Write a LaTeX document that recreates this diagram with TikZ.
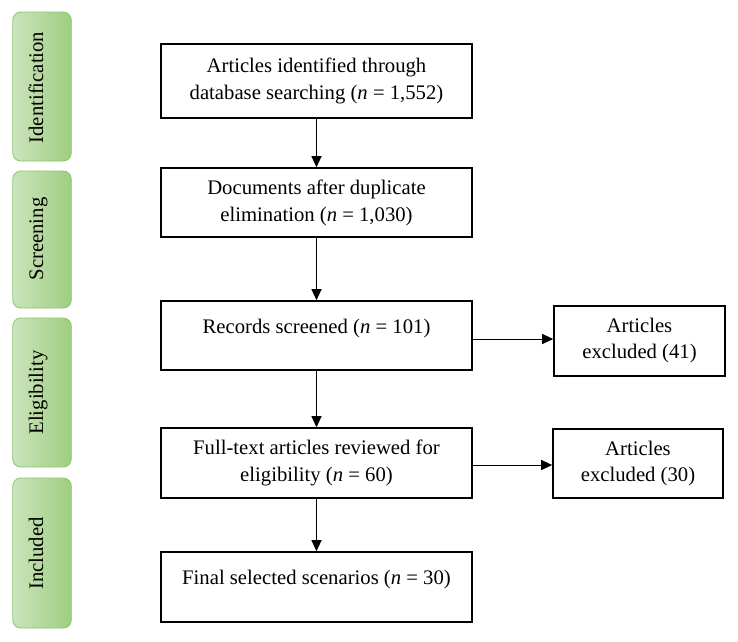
\documentclass[tikz,border=0pt]{standalone}
\usepackage{fontspec}
\setmainfont{Liberation Serif}
\usetikzlibrary{arrows.meta}
\definecolor{gleft}{RGB}{203,228,188}
\definecolor{gright}{RGB}{158,206,128}
\definecolor{gborder}{RGB}{140,196,110}
\begin{document}
\begin{tikzpicture}[x=1pt,y=-1pt,
  mainbox/.style={draw=black,line width=1.6pt,minimum width=311pt,inner sep=0pt,align=center,
    font=\fontsize{20.7}{27}\selectfont},
  exbox/.style={draw=black,line width=1.6pt,minimum width=171pt,minimum height=70pt,inner sep=0pt,align=center,
    font=\fontsize{20.7}{26}\selectfont},
  txt/.style={inner sep=0pt,font=\fontsize{20.7}{27}\selectfont},
  side/.style={draw=gborder,line width=0.8pt,rounded corners=8pt,left color=gleft,right color=gright,
    minimum width=58.5pt,inner sep=0pt},
  sidetxt/.style={inner sep=0pt,rotate=90,anchor=base,font=\fontsize{20.7}{27}\selectfont},
  arr/.style={line width=1pt,-{Triangle[length=11pt,width=10pt]}}]
\useasboundingbox (0,0) rectangle (738,641);
% side phases
\node[side,minimum height=149pt] (s1) at (42,86.5) {};
\node[side,minimum height=137pt] (s2) at (42,239.5) {};
\node[side,minimum height=149pt] (s3) at (42,392.5) {};
\node[side,minimum height=150pt] (s4) at (42,553) {};
\node[sidetxt] (l1) at (43,87.5) {Identification};
\node[sidetxt] (l2) at (43,239) {Screening};
\node[sidetxt] (l3) at (43,392.5) {Eligibility};
\node[sidetxt] (l4) at (43,553.5) {Included};
% main boxes
\node[mainbox,minimum height=74pt] (b1) at (316.5,81) {Articles identified through\\database searching (\textit{n} = 1,552)};
\node[mainbox,minimum height=69pt] (b2) at (316.5,202.5) {Documents after duplicate\\elimination (\textit{n} = 1,030)};
\node[mainbox,minimum height=69pt] (b3) at (316.5,335.5) {};
\node[txt] (t3) at (316.5,329) {Records screened (\textit{n} = 101)};
\node[mainbox,minimum height=70pt] (b4) at (316.5,463) {Full-text articles reviewed for\\eligibility (\textit{n} = 60)};
\node[mainbox,minimum height=70pt] (b5) at (316.5,587) {};
\node[txt] (t5) at (316.5,580) {Final selected scenarios (\textit{n} = 30)};
% excluded boxes
\node[exbox] (e1) at (639.5,341) {Articles\\excluded (41)};
\node[exbox,minimum width=170pt,minimum height=69pt] (e2) at (638,463.5) {Articles\\excluded (30)};
% arrows
\draw[arr] (b1.south) -- (b2.north);
\draw[arr] (b2.south) -- (b3.north);
\draw[arr] (b3.south) -- (b4.north);
\draw[arr] (b4.south) -- (b5.north);
\draw[arr] ([yshift=-3.5pt]b3.east) -- ([yshift=-3.5pt]b3.east -| e1.west);
\draw[arr] ([yshift=-2pt]b4.east) -- ([yshift=-2pt]b4.east -| e2.west);
\end{tikzpicture}
\end{document}
